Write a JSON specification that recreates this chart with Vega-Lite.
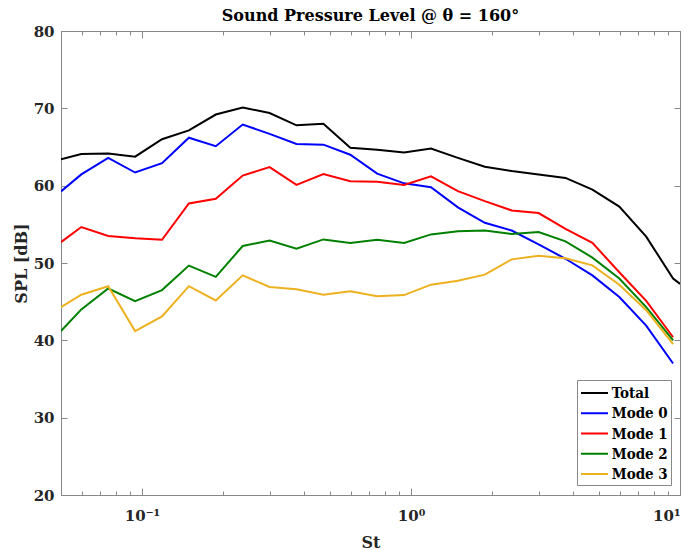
{
  "$schema": "https://vega.github.io/schema/vega-lite/v6.json",
  "width": 619,
  "height": 464,
  "autosize": "none",
  "padding": {"left": 61, "top": 31, "right": 14, "bottom": 55},
  "background": "white",
  "title": {"text": "Sound Pressure Level @ θ = 160°", "font": "DejaVu Serif", "fontWeight": "bold", "fontSize": 16, "color": "black", "offset": 0, "frame": "group", "anchor": "middle"},
  "config": {
    "view": {"stroke": "#888888", "strokeWidth": 1},
    "axis": {"grid": false, "domainColor": "#888888", "tickColor": "#888888", "labelFont": "DejaVu Serif", "labelFontWeight": "bold", "labelColor": "#262626", "titleFont": "DejaVu Serif", "titleFontWeight": "bold", "titleColor": "#262626", "titleFontSize": 16, "labelOverlap": false},
    "legend": {"orient": "none", "legendX": 516, "legendY": 349, "strokeColor": "#888888", "fillColor": "white", "padding": 3, "columnPadding": 0, "symbolType": "M-1,0H2", "symbolSize": 324, "symbolStrokeWidth": 2, "rowPadding": 2.25, "labelFont": "DejaVu Serif Condensed, Liberation Serif", "labelFontWeight": "bold", "labelFontSize": 15, "labelColor": "black", "labelOffset": 11.7, "symbolOffset": 0}
  },
  "data": {"values": [
    {"St": 0.05, "SPL": 63.4, "series": "Total"},
    {"St": 0.0595, "SPL": 64.1, "series": "Total"},
    {"St": 0.0749, "SPL": 64.15, "series": "Total"},
    {"St": 0.0943, "SPL": 63.75, "series": "Total"},
    {"St": 0.1187, "SPL": 66.0, "series": "Total"},
    {"St": 0.1494, "SPL": 67.15, "series": "Total"},
    {"St": 0.1881, "SPL": 69.2, "series": "Total"},
    {"St": 0.2368, "SPL": 70.1, "series": "Total"},
    {"St": 0.2981, "SPL": 69.4, "series": "Total"},
    {"St": 0.3753, "SPL": 67.8, "series": "Total"},
    {"St": 0.4725, "SPL": 68.0, "series": "Total"},
    {"St": 0.5948, "SPL": 64.9, "series": "Total"},
    {"St": 0.7488, "SPL": 64.65, "series": "Total"},
    {"St": 0.9427, "SPL": 64.3, "series": "Total"},
    {"St": 1.1868, "SPL": 64.8, "series": "Total"},
    {"St": 1.494, "SPL": 63.6, "series": "Total"},
    {"St": 1.881, "SPL": 62.45, "series": "Total"},
    {"St": 2.368, "SPL": 61.9, "series": "Total"},
    {"St": 2.981, "SPL": 61.45, "series": "Total"},
    {"St": 3.753, "SPL": 61.0, "series": "Total"},
    {"St": 4.725, "SPL": 59.5, "series": "Total"},
    {"St": 5.948, "SPL": 57.3, "series": "Total"},
    {"St": 7.488, "SPL": 53.4, "series": "Total"},
    {"St": 9.427, "SPL": 48.0, "series": "Total"},
    {"St": 10, "SPL": 47.3, "series": "Total"},
    {"St": 0.05, "SPL": 59.26, "series": "Mode 0"},
    {"St": 0.0595, "SPL": 61.46, "series": "Mode 0"},
    {"St": 0.0749, "SPL": 63.6, "series": "Mode 0"},
    {"St": 0.0943, "SPL": 61.7, "series": "Mode 0"},
    {"St": 0.1187, "SPL": 62.9, "series": "Mode 0"},
    {"St": 0.1494, "SPL": 66.2, "series": "Mode 0"},
    {"St": 0.1881, "SPL": 65.1, "series": "Mode 0"},
    {"St": 0.2368, "SPL": 67.9, "series": "Mode 0"},
    {"St": 0.2981, "SPL": 66.7, "series": "Mode 0"},
    {"St": 0.3753, "SPL": 65.4, "series": "Mode 0"},
    {"St": 0.4725, "SPL": 65.3, "series": "Mode 0"},
    {"St": 0.5948, "SPL": 64.0, "series": "Mode 0"},
    {"St": 0.7488, "SPL": 61.55, "series": "Mode 0"},
    {"St": 0.9427, "SPL": 60.3, "series": "Mode 0"},
    {"St": 1.1868, "SPL": 59.8, "series": "Mode 0"},
    {"St": 1.494, "SPL": 57.2, "series": "Mode 0"},
    {"St": 1.881, "SPL": 55.2, "series": "Mode 0"},
    {"St": 2.368, "SPL": 54.2, "series": "Mode 0"},
    {"St": 2.981, "SPL": 52.4, "series": "Mode 0"},
    {"St": 3.753, "SPL": 50.55, "series": "Mode 0"},
    {"St": 4.725, "SPL": 48.4, "series": "Mode 0"},
    {"St": 5.948, "SPL": 45.6, "series": "Mode 0"},
    {"St": 7.488, "SPL": 41.9, "series": "Mode 0"},
    {"St": 9.427, "SPL": 37.0, "series": "Mode 0"},
    {"St": 0.05, "SPL": 52.7, "series": "Mode 1"},
    {"St": 0.0595, "SPL": 54.65, "series": "Mode 1"},
    {"St": 0.0749, "SPL": 53.5, "series": "Mode 1"},
    {"St": 0.0943, "SPL": 53.2, "series": "Mode 1"},
    {"St": 0.1187, "SPL": 53.0, "series": "Mode 1"},
    {"St": 0.1494, "SPL": 57.7, "series": "Mode 1"},
    {"St": 0.1881, "SPL": 58.3, "series": "Mode 1"},
    {"St": 0.2368, "SPL": 61.3, "series": "Mode 1"},
    {"St": 0.2981, "SPL": 62.4, "series": "Mode 1"},
    {"St": 0.3753, "SPL": 60.1, "series": "Mode 1"},
    {"St": 0.4725, "SPL": 61.5, "series": "Mode 1"},
    {"St": 0.5948, "SPL": 60.56, "series": "Mode 1"},
    {"St": 0.7488, "SPL": 60.5, "series": "Mode 1"},
    {"St": 0.9427, "SPL": 60.1, "series": "Mode 1"},
    {"St": 1.1868, "SPL": 61.2, "series": "Mode 1"},
    {"St": 1.494, "SPL": 59.3, "series": "Mode 1"},
    {"St": 1.881, "SPL": 58.0, "series": "Mode 1"},
    {"St": 2.368, "SPL": 56.8, "series": "Mode 1"},
    {"St": 2.981, "SPL": 56.46, "series": "Mode 1"},
    {"St": 3.753, "SPL": 54.4, "series": "Mode 1"},
    {"St": 4.725, "SPL": 52.6, "series": "Mode 1"},
    {"St": 5.948, "SPL": 48.8, "series": "Mode 1"},
    {"St": 7.488, "SPL": 45.1, "series": "Mode 1"},
    {"St": 9.427, "SPL": 40.4, "series": "Mode 1"},
    {"St": 0.05, "SPL": 41.2, "series": "Mode 2"},
    {"St": 0.0595, "SPL": 44.0, "series": "Mode 2"},
    {"St": 0.0749, "SPL": 46.7, "series": "Mode 2"},
    {"St": 0.0943, "SPL": 45.06, "series": "Mode 2"},
    {"St": 0.1187, "SPL": 46.5, "series": "Mode 2"},
    {"St": 0.1494, "SPL": 49.66, "series": "Mode 2"},
    {"St": 0.1881, "SPL": 48.2, "series": "Mode 2"},
    {"St": 0.2368, "SPL": 52.2, "series": "Mode 2"},
    {"St": 0.2981, "SPL": 52.9, "series": "Mode 2"},
    {"St": 0.3753, "SPL": 51.85, "series": "Mode 2"},
    {"St": 0.4725, "SPL": 53.05, "series": "Mode 2"},
    {"St": 0.5948, "SPL": 52.6, "series": "Mode 2"},
    {"St": 0.7488, "SPL": 53.0, "series": "Mode 2"},
    {"St": 0.9427, "SPL": 52.6, "series": "Mode 2"},
    {"St": 1.1868, "SPL": 53.7, "series": "Mode 2"},
    {"St": 1.494, "SPL": 54.1, "series": "Mode 2"},
    {"St": 1.881, "SPL": 54.2, "series": "Mode 2"},
    {"St": 2.368, "SPL": 53.74, "series": "Mode 2"},
    {"St": 2.981, "SPL": 54.0, "series": "Mode 2"},
    {"St": 3.753, "SPL": 52.8, "series": "Mode 2"},
    {"St": 4.725, "SPL": 50.7, "series": "Mode 2"},
    {"St": 5.948, "SPL": 48.0, "series": "Mode 2"},
    {"St": 7.488, "SPL": 44.3, "series": "Mode 2"},
    {"St": 9.427, "SPL": 40.0, "series": "Mode 2"},
    {"St": 0.05, "SPL": 44.3, "series": "Mode 3"},
    {"St": 0.0595, "SPL": 45.9, "series": "Mode 3"},
    {"St": 0.0749, "SPL": 47.0, "series": "Mode 3"},
    {"St": 0.0943, "SPL": 41.2, "series": "Mode 3"},
    {"St": 0.1187, "SPL": 43.1, "series": "Mode 3"},
    {"St": 0.1494, "SPL": 47.0, "series": "Mode 3"},
    {"St": 0.1881, "SPL": 45.15, "series": "Mode 3"},
    {"St": 0.2368, "SPL": 48.4, "series": "Mode 3"},
    {"St": 0.2981, "SPL": 46.9, "series": "Mode 3"},
    {"St": 0.3753, "SPL": 46.6, "series": "Mode 3"},
    {"St": 0.4725, "SPL": 45.9, "series": "Mode 3"},
    {"St": 0.5948, "SPL": 46.35, "series": "Mode 3"},
    {"St": 0.7488, "SPL": 45.7, "series": "Mode 3"},
    {"St": 0.9427, "SPL": 45.85, "series": "Mode 3"},
    {"St": 1.1868, "SPL": 47.2, "series": "Mode 3"},
    {"St": 1.494, "SPL": 47.7, "series": "Mode 3"},
    {"St": 1.881, "SPL": 48.5, "series": "Mode 3"},
    {"St": 2.368, "SPL": 50.47, "series": "Mode 3"},
    {"St": 2.981, "SPL": 50.94, "series": "Mode 3"},
    {"St": 3.753, "SPL": 50.6, "series": "Mode 3"},
    {"St": 4.725, "SPL": 49.7, "series": "Mode 3"},
    {"St": 5.948, "SPL": 47.2, "series": "Mode 3"},
    {"St": 7.488, "SPL": 43.9, "series": "Mode 3"},
    {"St": 9.427, "SPL": 39.5, "series": "Mode 3"}
  ]},
  "layer": [
    {
      "mark": {"type": "line", "strokeWidth": 2, "clip": true},
      "encoding": {
        "x": {"field": "St", "type": "quantitative", "scale": {"type": "log", "domain": [0.05, 10], "nice": false},
          "axis": {"orient": "bottom", "title": "St", "titlePadding": 8, "labelFontSize": 15, "labelPadding": 20,
            "values": [0.05, 0.06, 0.07, 0.08, 0.09, 0.1, 0.2, 0.3, 0.4, 0.5, 0.6, 0.7, 0.8, 0.9, 1, 2, 3, 4, 5, 6, 7, 8, 9, 10],
            "labelExpr": "datum.value == 0.1 ? '10⁻¹' : datum.value == 1 ? '10⁰' : datum.value == 10 ? '10¹' : ''",
            "tickSize": {"condition": {"test": "datum.value == 0.1 || datum.value == 1 || datum.value == 10", "value": -7}, "value": -4}}},
        "y": {"field": "SPL", "type": "quantitative", "scale": {"domain": [20, 80], "nice": false, "zero": false},
          "axis": {"orient": "left", "title": "SPL [dB]", "titlePadding": 4, "labelFontSize": 15, "labelPadding": 13, "tickSize": -6, "values": [20, 30, 40, 50, 60, 70, 80]}},
        "color": {"field": "series", "type": "nominal", "title": null,
          "scale": {"domain": ["Total", "Mode 0", "Mode 1", "Mode 2", "Mode 3"], "range": ["#000000", "#0000FF", "#FF0000", "#008000", "#EDB120"]}}
      }
    },
    {
      "mark": {"type": "line", "opacity": 0},
      "encoding": {
        "x": {"field": "St", "type": "quantitative", "scale": {"type": "log", "domain": [0.05, 10], "nice": false},
          "axis": {"orient": "top", "title": null, "labels": false,
            "values": [0.05, 0.06, 0.07, 0.08, 0.09, 0.1, 0.2, 0.3, 0.4, 0.5, 0.6, 0.7, 0.8, 0.9, 1, 2, 3, 4, 5, 6, 7, 8, 9, 10],
            "tickSize": {"condition": {"test": "datum.value == 0.1 || datum.value == 1 || datum.value == 10", "value": -7}, "value": -4}}},
        "y": {"field": "SPL", "type": "quantitative", "scale": {"domain": [20, 80], "nice": false, "zero": false},
          "axis": {"orient": "right", "title": null, "labels": false, "tickSize": -6, "values": [20, 30, 40, 50, 60, 70, 80]}},
        "detail": {"field": "series", "type": "nominal"}
      }
    }
  ],
  "resolve": {"axis": {"x": "independent", "y": "independent"}}
}
